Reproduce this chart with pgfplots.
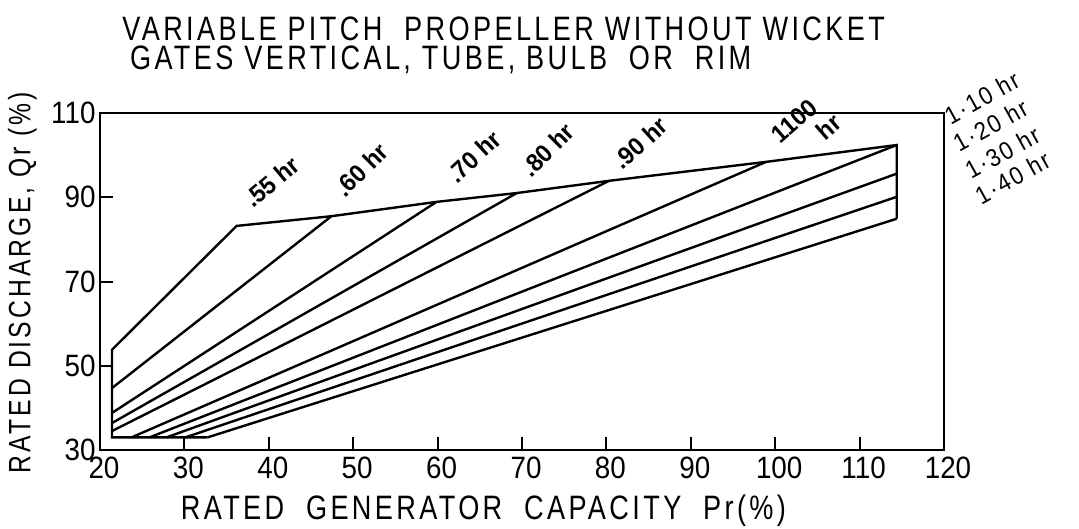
\documentclass[border=0pt]{standalone}
\usepackage{fontspec}
\setmainfont{Liberation Sans}[FakeStretch=0.8]
\newfontfamily\titlefont{Liberation Sans}[FakeStretch=0.8,LetterSpace=10]
\newfontfamily\tickfont{Liberation Sans}[FakeStretch=0.9]
\newfontfamily\curvefont{Liberation Sans}[FakeStretch=0.95]
\newfontfamily\rightfont{Liberation Sans}[FakeStretch=0.9,LetterSpace=8]
\usepackage{pgfplots}
\pgfplotsset{compat=1.18}
\begin{document}
\begin{tikzpicture}
\path[use as bounding box] (0,0) rectangle (1079bp,529bp);
\begin{axis}[
 at={(100bp,79bp)}, anchor=south west,
 scale only axis, width=844bp, height=337bp,
 xmin=20,xmax=120,ymin=30,ymax=110,
 xtick={20,30,...,120}, ytick={30,50,70,90,110},
 xtick pos=bottom, ytick pos=left, tick align=inside,
 major tick length=13bp,
 axis line style={line width=2.5bp},
 every tick/.style={black,line width=2bp},
 ticklabel style={font=\tickfont\fontsize{31}{33}\selectfont},
 xticklabel style={yshift=-3bp,xshift=4bp},
 yticklabel style={xshift=-1bp},
 /pgf/number format/assume math mode=true,
 clip=false,
]
% envelope
\addplot[black,line width=2.4bp] coordinates {(32.75,33.0) (21.42,33.0) (21.42,53.8) (36.19,83.2) (47.42,85.5) (59.87,88.9) (69.38,91.0) (80.31,93.9) (98.92,98.4) (114.4,102.4) (114.4,84.9)};
\addplot[black,line width=2.4bp] coordinates {(21.42,44.7) (47.42,85.5)};
\addplot[black,line width=2.4bp] coordinates {(21.42,38.8) (59.87,88.9)};
\addplot[black,line width=2.4bp] coordinates {(21.42,36.4) (69.38,91.0)};
\addplot[black,line width=2.4bp] coordinates {(21.42,34.5) (80.31,93.9)};
\addplot[black,line width=2.4bp] coordinates {(23.74,33.0) (98.92,98.4)};
\addplot[black,line width=2.4bp] coordinates {(25.87,33.0) (114.4,102.4)};
\addplot[black,line width=2.4bp] coordinates {(27.89,33.0) (114.4,95.6)};
\addplot[black,line width=2.4bp] coordinates {(30.12,33.0) (114.4,90.1)};
\addplot[black,line width=2.4bp] coordinates {(32.75,33.0) (114.4,84.9)};
% curve labels
\begin{scope}[every node/.style={font=\curvefont\bfseries\fontsize{25}{27}\selectfont,inner sep=0pt,anchor=base west}]
\node[rotate=40] at (axis cs:38.11,87.2) {.55 hr};
\node[rotate=45] at (axis cs:49.04,89.7) {.60 hr};
\node[rotate=43] at (axis cs:62.29,92.9) {.70 hr};
\node[rotate=45] at (axis cs:71.10,94.5) {.80 hr};
\node[rotate=42] at (axis cs:81.92,96.3) {.90 hr};
\node[rotate=41] at (axis cs:100.6,102.6) {1100};
\node[rotate=41] at (axis cs:105.9,103.3) {hr};
\end{scope}
\begin{scope}[every node/.style={font=\rightfont\fontsize{25}{27}\selectfont,inner sep=0pt,anchor=base west}]
\node[rotate=29] at (axis cs:120.78,107.0) {1·10 hr};
\node[rotate=29] at (axis cs:121.8,100.5) {1·20 hr};
\node[rotate=29] at (axis cs:123.21,94.1) {1·30 hr};
\node[rotate=29] at (axis cs:124.42,88.0) {1·40 hr};
\end{scope}
% titles and axis labels
\node[anchor=west,inner sep=0pt,font=\titlefont\fontsize{34}{40}\selectfont] at (axis cs:22.63,130) {VARIABLE PITCH\ \ PROPELLER WITHOUT WICKET};
\node[anchor=west,inner sep=0pt,font=\titlefont\fontsize{34}{40}\selectfont] at (axis cs:23.54,122.6) {GATES VERTICAL, TUBE, BULB\ \ OR\ \ RIM};
\node[inner sep=0pt,font=\titlefont\fontsize{34}{40}\selectfont] at (axis cs:65.43,15.5) {RATED\ \ GENERATOR\ \ CAPACITY\ \ Pr(\%)};
\node[rotate=90,inner sep=0pt,font=\titlefont\fontsize{31}{34}\selectfont] at (axis cs:10.79,69.7) {RATED DISCHARGE, Qr (\%)};
\end{axis}
\end{tikzpicture}
\end{document}
